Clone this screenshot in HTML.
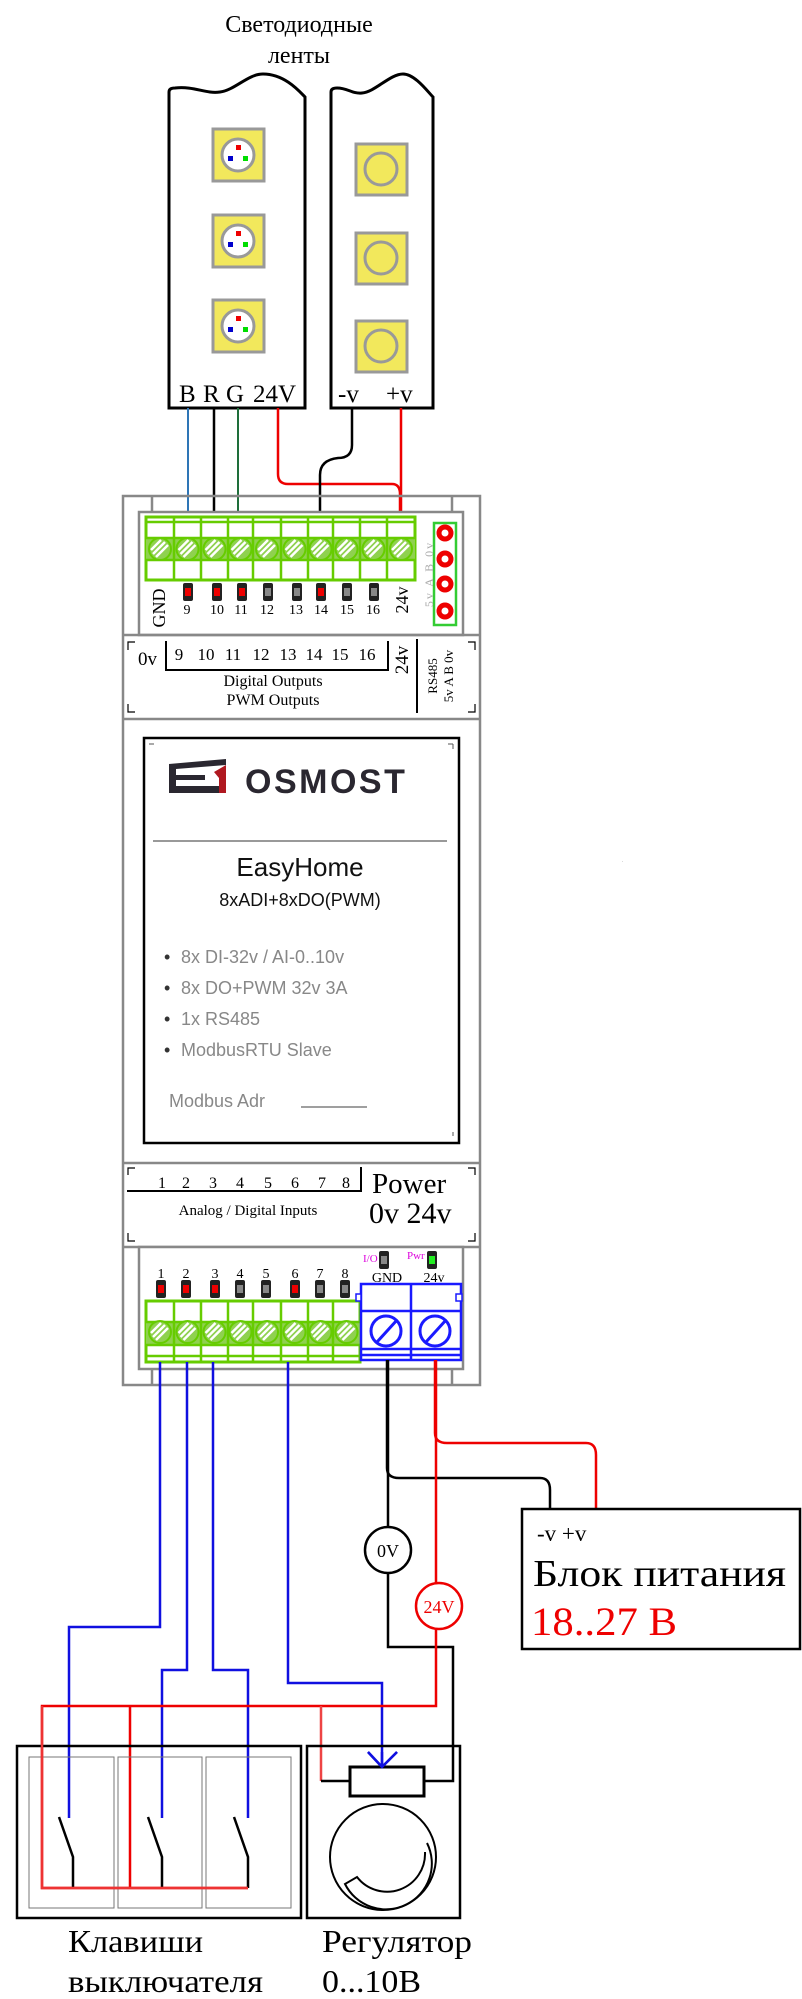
<!DOCTYPE html>
<html><head><meta charset="utf-8"><style>
html,body{margin:0;padding:0;background:#fff;}
svg{display:block;}
.serif{font-family:"Liberation Serif",serif;}
.sans{font-family:"Liberation Sans",sans-serif;}
</style></head><body>
<svg width="802" height="1999" viewBox="0 0 802 1999" xmlns="http://www.w3.org/2000/svg">
<defs>
<g id="gscrew"><circle r="11" fill="#8fd14f" stroke="#66cc00" stroke-width="2"/><line x1="-7" y1="5" x2="5" y2="-7" stroke="#fff" stroke-width="2.5"/><line x1="-4" y1="8" x2="8" y2="-4" stroke="#fff" stroke-width="2.5"/><line x1="-9" y1="1" x2="1" y2="-9" stroke="#fff" stroke-width="2.5"/></g>
<g id="ledr"><rect x="-5" y="-9" width="10" height="18" rx="2" fill="#222"/><rect x="-3" y="-4" width="6" height="8" fill="#e00"/></g>
<g id="ledg"><rect x="-5" y="-9" width="10" height="18" rx="2" fill="#222"/><rect x="-3" y="-4" width="6" height="8" fill="#888"/></g>
<g id="rgb"><rect x="-25" y="-26" width="51" height="52" fill="#f2e85c" stroke="#999" stroke-width="3"/><circle r="16" fill="#fff" stroke="#999" stroke-width="3"/><rect x="-2" y="-10" width="5" height="5" fill="#e00"/><rect x="-10" y="1" width="5" height="5" fill="#00c"/><rect x="5" y="1" width="5" height="5" fill="#0d0"/></g>
<g id="mono"><rect x="-25" y="-25" width="51" height="51" fill="#f2e85c" stroke="#999" stroke-width="3"/><circle r="16" fill="#f2e85c" stroke="#999" stroke-width="3"/></g>
</defs>

<text x="299" y="32" class="serif" font-size="24" text-anchor="middle">Светодиодные</text>
<text x="299" y="63" class="serif" font-size="24" text-anchor="middle">ленты</text>

<path d="M169,408 V92 Q169,88 175,88 C195,86 205,94 220,92 C235,90 248,74 263,74 C285,74 300,92 305,97 V408 Z" fill="#fff" stroke="#000" stroke-width="3"/>
<path d="M331,408 V92 Q331,88 337,88 C348,88 352,94 362,93 C375,92 390,74 403,74 C415,74 428,92 433,97 V408 Z" fill="#fff" stroke="#000" stroke-width="3"/>
<use href="#rgb" x="238" y="155"/>
<use href="#rgb" x="238" y="241"/>
<use href="#rgb" x="238" y="326"/>
<use href="#mono" x="381" y="169"/>
<use href="#mono" x="381" y="258"/>
<use href="#mono" x="381" y="346"/>
<g class="serif" font-size="25">
<text x="179" y="402">B</text><text x="203" y="402">R</text><text x="226" y="402">G</text><text x="253" y="402">24V</text>
<text x="338" y="402">-v</text><text x="386" y="402">+v</text>
</g>

<line x1="188" y1="408" x2="188" y2="519" stroke="#2e75b6" stroke-width="2"/>
<line x1="214" y1="408" x2="214" y2="519" stroke="#000" stroke-width="2.5"/>
<line x1="238" y1="408" x2="238" y2="519" stroke="#1e6e3a" stroke-width="2"/>
<path d="M278,408 V474 Q278,484 288,484 H392 Q400,484 400,494 V519" fill="none" stroke="#e00" stroke-width="2.5"/>
<line x1="401" y1="408" x2="401" y2="519" stroke="#e00" stroke-width="2.5"/>
<path d="M352,408 V445 Q352,458 338,458 Q320,460 320,475 V519" fill="none" stroke="#000" stroke-width="2.5"/>

<rect x="123" y="496" width="357" height="889" fill="none" stroke="#888" stroke-width="2.5"/>
<line x1="152" y1="496" x2="152" y2="512" stroke="#888" stroke-width="2.5"/>
<line x1="452" y1="496" x2="452" y2="512" stroke="#888" stroke-width="2.5"/>
<rect x="139" y="512" width="324" height="123" fill="#fff" stroke="#888" stroke-width="2.5"/>
<line x1="123" y1="635" x2="480" y2="635" stroke="#888" stroke-width="2.5"/>
<line x1="123" y1="719" x2="480" y2="719" stroke="#888" stroke-width="2.5"/>

<rect x="146" y="517" width="269" height="63" fill="#fff" stroke="#66cc00" stroke-width="3"/>
<rect x="146" y="538" width="269" height="22" fill="#8fd14f"/>
<g stroke="#66cc00" stroke-width="2.5">
<line x1="146" y1="522" x2="415" y2="522"/><line x1="146" y1="538" x2="415" y2="538"/><line x1="146" y1="560" x2="415" y2="560"/>
<line x1="174" y1="517" x2="174" y2="580"/><line x1="201" y1="517" x2="201" y2="580"/><line x1="228" y1="517" x2="228" y2="580"/><line x1="253" y1="517" x2="253" y2="580"/><line x1="281" y1="517" x2="281" y2="580"/><line x1="308" y1="517" x2="308" y2="580"/><line x1="333" y1="517" x2="333" y2="580"/><line x1="360" y1="517" x2="360" y2="580"/><line x1="387" y1="517" x2="387" y2="580"/>
</g>
<use href="#gscrew" x="160" y="549"/><use href="#gscrew" x="187.5" y="549"/><use href="#gscrew" x="214.5" y="549"/><use href="#gscrew" x="240.5" y="549"/><use href="#gscrew" x="267" y="549"/><use href="#gscrew" x="294.5" y="549"/><use href="#gscrew" x="320.5" y="549"/><use href="#gscrew" x="346.5" y="549"/><use href="#gscrew" x="373.5" y="549"/><use href="#gscrew" x="401" y="549"/>
<use href="#ledr" x="188" y="592"/><use href="#ledr" x="217" y="592"/><use href="#ledr" x="242" y="592"/><use href="#ledg" x="268" y="592"/><use href="#ledg" x="297" y="592"/><use href="#ledr" x="321" y="592"/><use href="#ledg" x="347" y="592"/><use href="#ledg" x="374" y="592"/>
<g class="serif" font-size="14" text-anchor="middle">
<text x="187" y="614">9</text><text x="217" y="614">10</text><text x="241" y="614">11</text><text x="267" y="614">12</text><text x="296" y="614">13</text><text x="321" y="614">14</text><text x="347" y="614">15</text><text x="373" y="614">16</text>
</g>
<text transform="translate(165,608) rotate(-90)" class="serif" font-size="18" text-anchor="middle">GND</text>
<text transform="translate(408,600) rotate(-90)" class="serif" font-size="18" text-anchor="middle">24v</text>
<rect x="434" y="523" width="22" height="102" fill="#fff" stroke="#3c3" stroke-width="2.5"/>
<g fill="#fff" stroke="#e00" stroke-width="5"><circle cx="445" cy="533" r="6"/><circle cx="445" cy="559" r="6"/><circle cx="445" cy="584" r="6"/><circle cx="445" cy="611" r="6"/></g>
<text transform="translate(433,574) rotate(-90)" class="serif" font-size="12" fill="#aaa" text-anchor="middle" letter-spacing="2">5v A B 0v</text>

<g stroke="#000" stroke-width="1.2" fill="none">
<path d="M128,650 V642 H135"/><path d="M128,704 V712 H135"/><path d="M475,650 V642 H468"/><path d="M475,704 V712 H468"/>
</g>
<path d="M166,641 V670 H388 V641" fill="none" stroke="#000" stroke-width="2"/>
<line x1="417" y1="639" x2="417" y2="713" stroke="#000" stroke-width="2"/>
<text x="138" y="665" class="serif" font-size="19">0v</text>
<g class="serif" font-size="17" text-anchor="middle">
<text x="179" y="660">9</text><text x="206" y="660">10</text><text x="233" y="660">11</text><text x="261" y="660">12</text><text x="288" y="660">13</text><text x="314" y="660">14</text><text x="340" y="660">15</text><text x="367" y="660">16</text>
</g>
<text x="273" y="686" class="serif" font-size="16" text-anchor="middle">Digital Outputs</text>
<text x="273" y="705" class="serif" font-size="16" text-anchor="middle">PWM Outputs</text>
<text transform="translate(408,660) rotate(-90)" class="serif" font-size="19" text-anchor="middle">24v</text>
<text transform="translate(437,676) rotate(-90)" class="serif" font-size="13" text-anchor="middle">RS485</text>
<text transform="translate(453,676) rotate(-90)" class="serif" font-size="13" text-anchor="middle">5v A B 0v</text>

<rect x="144" y="738" width="315" height="405" fill="#fff" stroke="#000" stroke-width="2.5"/>
<g stroke="#555" stroke-width="1" fill="none"><path d="M149,744 H154"/><path d="M453,744 H448 M453,744 V749"/><path d="M453,1136 V1132"/></g>
<path d="M169,764 L226,759 V765 L176,769 V775 H205 V780 H176 V786 H220 V793 H169 Z" fill="#2a2730"/>
<path d="M214,772 L226,765 V793 H219 V778 Z" fill="#b01820"/>
<text x="245" y="793" class="sans" font-size="34" font-weight="bold" fill="#2a2730" letter-spacing="2.5">OSMOST</text>
<line x1="153" y1="841" x2="447" y2="841" stroke="#333" stroke-width="1"/>
<text x="300" y="876" class="sans" font-size="26" text-anchor="middle" fill="#111">EasyHome</text>
<text x="300" y="906" class="sans" font-size="18" text-anchor="middle" fill="#111">8xADI+8xDO(PWM)</text>
<g class="sans" font-size="18" fill="#888">
<text x="164" y="963" fill="#333">•</text><text x="181" y="963">8x DI-32v / AI-0..10v</text>
<text x="164" y="994" fill="#333">•</text><text x="181" y="994">8x DO+PWM 32v 3A</text>
<text x="164" y="1025" fill="#333">•</text><text x="181" y="1025">1x RS485</text>
<text x="164" y="1056" fill="#333">•</text><text x="181" y="1056">ModbusRTU Slave</text>
<text x="169" y="1107">Modbus Adr</text>
</g>
<line x1="301" y1="1107" x2="367" y2="1107" stroke="#666" stroke-width="1.2"/>

<line x1="123" y1="1163" x2="480" y2="1163" stroke="#888" stroke-width="2.5"/>
<line x1="123" y1="1247" x2="480" y2="1247" stroke="#888" stroke-width="2.5"/>
<g stroke="#000" stroke-width="1.2" fill="none">
<path d="M128,1175 V1168 H135"/><path d="M128,1233 V1241 H135"/><path d="M475,1175 V1168 H468"/><path d="M475,1233 V1241 H468"/>
</g>
<path d="M127,1191 H361 V1167" fill="none" stroke="#000" stroke-width="2"/>
<g class="serif" font-size="16" text-anchor="middle">
<text x="162" y="1188">1</text><text x="186" y="1188">2</text><text x="213" y="1188">3</text><text x="240" y="1188">4</text><text x="268" y="1188">5</text><text x="295" y="1188">6</text><text x="322" y="1188">7</text><text x="346" y="1188">8</text>
</g>
<text x="248" y="1215" class="serif" font-size="15" text-anchor="middle">Analog / Digital Inputs</text>
<text x="372" y="1193" class="serif" font-size="29">Power</text>
<text x="369" y="1223" class="serif" font-size="30">0v 24v</text>

<rect x="139" y="1247" width="324" height="122" fill="#fff" stroke="#888" stroke-width="2.5"/>
<line x1="152" y1="1369" x2="152" y2="1385" stroke="#888" stroke-width="2.5"/>
<line x1="452" y1="1369" x2="452" y2="1385" stroke="#888" stroke-width="2.5"/>
<use href="#ledr" x="161" y="1289"/><use href="#ledr" x="186" y="1289"/><use href="#ledr" x="215" y="1289"/><use href="#ledg" x="240" y="1289"/><use href="#ledg" x="266" y="1289"/><use href="#ledr" x="295" y="1289"/><use href="#ledg" x="320" y="1289"/><use href="#ledg" x="345" y="1289"/>
<g class="serif" font-size="14" text-anchor="middle">
<text x="161" y="1278">1</text><text x="186" y="1278">2</text><text x="215" y="1278">3</text><text x="240" y="1278">4</text><text x="266" y="1278">5</text><text x="295" y="1278">6</text><text x="320" y="1278">7</text><text x="345" y="1278">8</text>
</g>
<rect x="146" y="1301" width="214" height="61" fill="#fff" stroke="#66cc00" stroke-width="3"/>
<rect x="146" y="1322" width="214" height="23" fill="#8fd14f"/>
<g stroke="#66cc00" stroke-width="2.5">
<line x1="146" y1="1322" x2="360" y2="1322"/><line x1="146" y1="1345" x2="360" y2="1345"/><line x1="146" y1="1356" x2="360" y2="1356"/>
<line x1="174" y1="1301" x2="174" y2="1362"/><line x1="201" y1="1301" x2="201" y2="1362"/><line x1="228" y1="1301" x2="228" y2="1362"/><line x1="253" y1="1301" x2="253" y2="1362"/><line x1="281" y1="1301" x2="281" y2="1362"/><line x1="308" y1="1301" x2="308" y2="1362"/><line x1="333" y1="1301" x2="333" y2="1362"/>
</g>
<use href="#gscrew" x="160" y="1332"/><use href="#gscrew" x="187.5" y="1332"/><use href="#gscrew" x="214.5" y="1332"/><use href="#gscrew" x="240.5" y="1332"/><use href="#gscrew" x="267" y="1332"/><use href="#gscrew" x="294.5" y="1332"/><use href="#gscrew" x="320.5" y="1332"/><use href="#gscrew" x="346.5" y="1332"/>
<rect x="361" y="1284" width="100" height="76" fill="#fff" stroke="#1a1aff" stroke-width="2.5"/>
<g stroke="#1a1aff" stroke-width="2.5">
<line x1="411" y1="1284" x2="411" y2="1360"/><line x1="361" y1="1311" x2="461" y2="1311"/><line x1="361" y1="1349" x2="461" y2="1349"/><line x1="361" y1="1355" x2="461" y2="1355"/>
</g>
<rect x="356" y="1294" width="5" height="7" fill="#fff" stroke="#1a1aff" stroke-width="1.5"/>
<rect x="456" y="1294" width="6" height="7" fill="#fff" stroke="#1a1aff" stroke-width="1.5"/>
<g fill="#fff" stroke="#1a1aff" stroke-width="3"><circle cx="386" cy="1331" r="15"/><circle cx="435" cy="1331" r="15"/></g>
<g stroke="#1a1aff" stroke-width="3"><line x1="377" y1="1342" x2="397" y2="1320"/><line x1="426" y1="1342" x2="446" y2="1320"/></g>
<text x="363" y="1262" class="serif" font-size="11" fill="#d0d">I/O</text>
<text x="407" y="1259" class="serif" font-size="11" fill="#d0d">Pwr</text>
<rect x="379" y="1251" width="10" height="18" rx="2" fill="#222"/><rect x="381" y="1256" width="6" height="8" fill="#888"/>
<rect x="427" y="1251" width="10" height="18" rx="2" fill="#222"/><rect x="429" y="1256" width="6" height="8" fill="#2e2"/>
<text x="387" y="1282" class="serif" font-size="14" text-anchor="middle">GND</text>
<text x="434" y="1282" class="serif" font-size="14" text-anchor="middle">24v</text>

<g fill="none" stroke="#1010e0" stroke-width="2.5">
<path d="M160,1362 V1627 H69 V1818"/>
<path d="M187,1362 V1670 H162 V1818"/>
<path d="M213,1362 V1670 H248 V1818"/>
<path d="M288,1362 V1683 H382 V1766"/>
<path d="M368,1752 L382,1767 L397,1752"/>
</g>
<path d="M435,1360 V1433 Q435,1443 447,1443 H586 Q596,1443 596,1455 V1509" fill="none" stroke="#e00" stroke-width="2.5"/>
<path d="M387,1360 V1468 Q387,1478 399,1478 H540 Q550,1478 550,1490 V1509" fill="none" stroke="#000" stroke-width="2.5"/>
<path d="M388,1360 V1647 H453 V1781 H424" fill="none" stroke="#000" stroke-width="2.5"/>
<path d="M436,1360 V1706 H42 V1888 H248" fill="none" stroke="#e00" stroke-width="2.5"/>
<path d="M130,1706 V1888" fill="none" stroke="#e00" stroke-width="2.5"/>
<path d="M321,1706 V1781" fill="none" stroke="#e44" stroke-width="2.5"/>
<path d="M321,1781 H350" fill="none" stroke="#000" stroke-width="2.5"/>
<circle cx="388" cy="1550" r="23" fill="#fff" stroke="#000" stroke-width="2.5"/>
<text x="388" y="1557" class="serif" font-size="18" text-anchor="middle">0V</text>
<circle cx="439" cy="1606" r="23" fill="#fff" stroke="#e00" stroke-width="2.5"/>
<text x="439" y="1613" class="serif" font-size="18" text-anchor="middle" fill="#e00">24V</text>

<rect x="522" y="1509" width="278" height="140" fill="#fff" stroke="#000" stroke-width="2.5"/>
<text x="537" y="1541" class="serif" font-size="23">-v +v</text>
<text x="533" y="1586" class="serif" font-size="38" textLength="253" lengthAdjust="spacingAndGlyphs">Блок питания</text>
<text x="531" y="1635" class="serif" font-size="40" fill="#e00" textLength="146" lengthAdjust="spacingAndGlyphs">18..27 В</text>

<rect x="17" y="1746" width="284" height="172" fill="none" stroke="#000" stroke-width="2.5"/>
<g fill="none" stroke="#777" stroke-width="1"><rect x="29" y="1757" width="85" height="151"/><rect x="118" y="1757" width="84" height="151"/><rect x="206" y="1757" width="85" height="151"/></g>
<g fill="none" stroke="#000" stroke-width="2.5">
<path d="M59,1817 L73,1857 V1888"/><path d="M148,1817 L162,1857 V1888"/><path d="M234,1817 L248,1857 V1888"/>
</g>
<path d="M42,1706 V1888 H248" fill="none" stroke="#e33" stroke-width="2.5"/>
<rect x="307" y="1746" width="153" height="172" fill="none" stroke="#000" stroke-width="2.5"/>
<rect x="350" y="1767" width="74" height="29" fill="#fff" stroke="#000" stroke-width="3"/>
<path d="M382,1752 L382,1766" stroke="#1010e0" stroke-width="2.5"/>
<path d="M368,1752 L382,1767 L397,1752" fill="none" stroke="#1010e0" stroke-width="2.5"/>
<circle cx="383" cy="1857" r="53" fill="none" stroke="#000" stroke-width="2"/>
<path d="M427,1843 A44 44 0 0 1 345,1884 L357,1877 A38 38 0 0 0 425,1852" fill="none" stroke="#000" stroke-width="2"/>

<text x="68" y="1952" class="serif" font-size="32" textLength="135" lengthAdjust="spacingAndGlyphs">Клавиши</text>
<text x="68" y="1992" class="serif" font-size="32" textLength="195" lengthAdjust="spacingAndGlyphs">выключателя</text>
<text x="322" y="1952" class="serif" font-size="32" textLength="150" lengthAdjust="spacingAndGlyphs">Регулятор</text>
<text x="322" y="1992" class="serif" font-size="32" textLength="99" lengthAdjust="spacingAndGlyphs">0...10В</text>
<text x="622" y="862" font-size="4">.</text>
</svg>
</body></html>
